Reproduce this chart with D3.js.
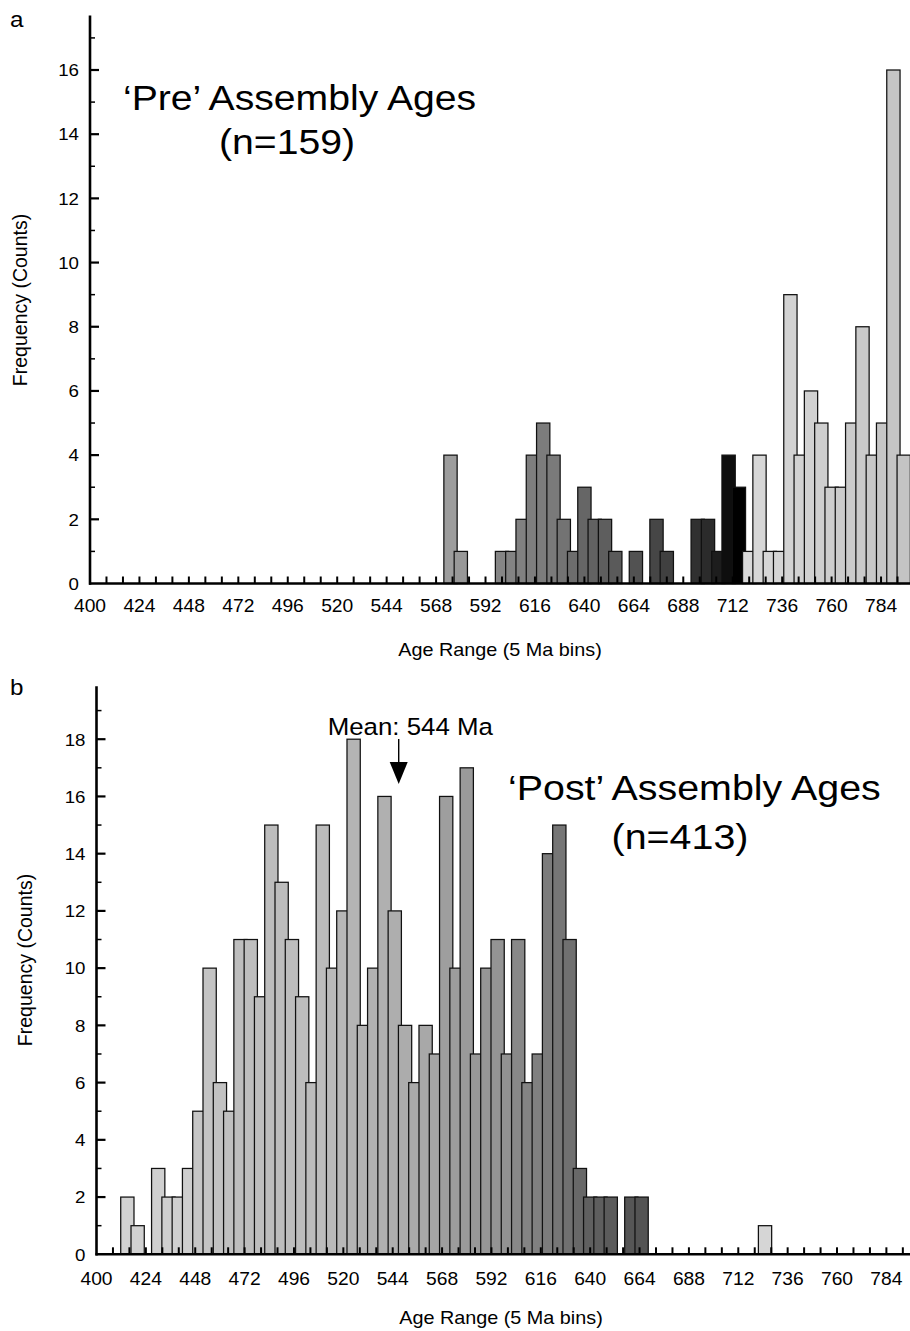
<!DOCTYPE html>
<html>
<head>
<meta charset="utf-8">
<script src="https://cdn.jsdelivr.net/npm/d3@7"></script>
<style>
  body { margin: 0; background: #fff; }
  svg { display: block; }
  text { font-family: "Liberation Sans", Arial, Helvetica, sans-serif; fill: #000; }
</style>
</head>
<body>
<script>
// ---------------- DATA ----------------
// Panel a: 'Pre' assembly ages (bin centres, Ma) and counts
const agesA = [575,580,585,590,595,600,605,610,615,620,625,630,635,640,645,650,655,660,665,670,
               675,680,685,690,695,700,705,710,715,720,725,730,735,740,745,750,755,760,765,770,
               775,780,785,790,795];
const countsA = [4,1,0,0,0,1,1,2,4,5,4,2,1,3,2,2,1,0,1,0,
                 2,1,0,0,2,2,1,4,3,1,4,1,1,9,4,6,5,3,3,5,
                 8,4,5,16,4];

// Panel b: 'Post' assembly ages
const agesB = [415,420,425,430,435,440,445,450,455,460,465,470,475,480,485,490,495,500,505,510,
               515,520,525,530,535,540,545,550,555,560,565,570,575,580,585,590,595,600,605,610,
               615,620,625,630,635,640,645,650,655,660,665,725];
const countsB = [2,1,0,3,2,2,3,5,10,6,5,11,11,9,15,13,11,9,6,15,
                 10,12,18,8,10,16,12,8,6,8,7,16,10,17,7,10,11,7,11,6,
                 7,14,15,11,3,2,2,2,0,2,2,1];

const xTickLabels = [400,424,448,472,496,520,544,568,592,616,640,664,688,712,736,760,784];
const yTicksA = [0,2,4,6,8,10,12,14,16];
const yTicksB = [0,2,4,6,8,10,12,14,16,18];
const meanAge = 544;

const titleA = ["\u2018Pre\u2019 Assembly Ages", "(n=159)"];
const titleB = ["\u2018Post\u2019 Assembly Ages", "(n=413)"];
const meanLabel = "Mean: 544 Ma";
const xTitle = "Age Range (5 Ma bins)";
const yTitle = "Frequency (Counts)";

// ---------------- STYLE ----------------
const grayStopsA = { age: [575, 600, 625, 640, 665, 680, 700, 715, 716, 795],
                     g:   [157, 133, 122, 102, 82,  64,  43,  0,   218, 196] };
const grayStopsB = { age: [415, 445, 450, 470, 510, 525, 545, 565, 570, 600, 605, 620, 630, 640, 665, 700, 730],
                     g:   [210, 206, 198, 190, 188, 180, 174, 166, 158, 146, 136, 124, 112, 96,  84,  214, 214] };

const W = 910, H = 1331;
const STRETCH = 1.1;   // the reference type is slightly wide
const binWidthDrawn = 6.45; // Ma; bars overlap their neighbours

const svg = d3.select("body").append("svg").attr("width", W).attr("height", H);

function addText(parent, x, y, str, size, anchor, rotate) {
  const tr = rotate ? `translate(${x},${y}) rotate(-90)`
                    : `translate(${x},${y}) scale(${STRETCH},1)`;
  const g = parent.append("g").attr("transform", tr);
  g.append("text").attr("font-size", size).attr("text-anchor", anchor || "start").text(str);
  return g;
}

function drawPanel(cfg) {
  const g = svg.append("g");
  const x = d3.scaleLinear().domain([400, 800]).range([cfg.x0, cfg.x0 + 400 * cfg.pxPerMa]);
  const y = d3.scaleLinear().domain([0, cfg.yRef]).range([cfg.y0, cfg.yRefPx]);
  const gray = d3.scaleLinear().domain(cfg.stops.age).range(cfg.stops.g).clamp(true);

  // bars
  const data = cfg.ages.map((a, i) => ({ age: a, n: cfg.counts[i] })).filter(d => d.n > 0);
  g.append("g").selectAll("rect").data(data).join("rect")
    .attr("x", d => x(d.age - binWidthDrawn / 2))
    .attr("width", x(400 + binWidthDrawn) - x(400))
    .attr("y", d => y(d.n))
    .attr("height", d => y(0) - y(d.n))
    .attr("fill", d => { const v = Math.round(gray(d.age)); return d3.rgb(v, v, v); })
    .attr("stroke", "#111")
    .attr("stroke-width", 1.25);

  // x axis
  const xEnd = 910;
  g.append("line").attr("x1", cfg.x0 - 1).attr("x2", xEnd).attr("y1", y(0)).attr("y2", y(0))
    .attr("stroke", "#000").attr("stroke-width", 2.6);
  const xt = d3.range(408, 801, 8).filter(v => x(v) <= xEnd);
  g.append("g").selectAll("line").data(xt).join("line")
    .attr("x1", d => x(d)).attr("x2", d => x(d))
    .attr("y1", y(0)).attr("y2", y(0) - 7)
    .attr("stroke", "#000").attr("stroke-width", 2);
  xTickLabels.forEach(v => addText(g, x(v), cfg.xLabelY, String(v), 17.5, "middle"));

  // y axis
  g.append("line").attr("x1", cfg.x0).attr("x2", cfg.x0).attr("y1", y(0) + 1.3).attr("y2", y(cfg.yTop))
    .attr("stroke", "#000").attr("stroke-width", 2.6);
  const yMinor = d3.range(1, Math.floor(cfg.yTop) + 1, 2);
  g.append("g").selectAll("line").data(yMinor).join("line")
    .attr("x1", cfg.x0).attr("x2", cfg.x0 + 5)
    .attr("y1", d => y(d)).attr("y2", d => y(d))
    .attr("stroke", "#000").attr("stroke-width", 1.5);
  g.append("g").selectAll("line").data(cfg.yTicks.filter(v => v > 0)).join("line")
    .attr("x1", cfg.x0).attr("x2", cfg.x0 + 9)
    .attr("y1", d => y(d)).attr("y2", d => y(d))
    .attr("stroke", "#000").attr("stroke-width", 2.2);
  cfg.yTicks.forEach(v => addText(g, cfg.x0 - 11, y(v) + 6.3, String(v), 17, "end"));

  // axis titles
  addText(g, cfg.xTitleX, cfg.xTitleY, xTitle, 18, "middle");
  addText(g, cfg.yTitleX, cfg.yTitleY, yTitle, 19.5, "middle", true);

  // panel letter
  addText(g, 10, cfg.letterY, cfg.letter, 22, "start");

  // titles
  addText(g, cfg.t1x, cfg.t1y, cfg.title[0], cfg.tSize, "start");
  addText(g, cfg.t2x, cfg.t2y, cfg.title[1], cfg.tSize, "middle");

  return { g, x, y };
}

drawPanel({
  letter: "a", letterY: 27,
  ages: agesA, counts: countsA, stops: grayStopsA,
  x0: 90, pxPerMa: 2.06,
  y0: 583.5, yRef: 16, yRefPx: 70, yTop: 17.7, yTicks: yTicksA,
  xLabelY: 611.5, xTitleX: 500, xTitleY: 656, yTitleX: 27, yTitleY: 300,
  title: titleA, tSize: 35.6, t1x: 123, t1y: 110, t2x: 287, t2y: 154
});

const pb = drawPanel({
  letter: "b", letterY: 695,
  ages: agesB, counts: countsB, stops: grayStopsB,
  x0: 96.5, pxPerMa: 2.057,
  y0: 1254.3, yRef: 18, yRefPx: 739.2, yTop: 19.85, yTicks: yTicksB,
  xLabelY: 1284.5, xTitleX: 501, xTitleY: 1324, yTitleX: 32, yTitleY: 960,
  title: titleB, tSize: 35.8, t1x: 508, t1y: 800, t2x: 680, t2y: 849
});

// mean annotation (arrow head sits just right of the 544 tick, as drawn)
const ax = pb.x(meanAge) + 6;
addText(pb.g, ax - 71, 735, meanLabel, 23.5, "start");
pb.g.append("line").attr("x1", ax).attr("x2", ax).attr("y1", 739).attr("y2", 764)
  .attr("stroke", "#000").attr("stroke-width", 1.4);
pb.g.append("path")
  .attr("d", d3.line()([[ax - 9, 762], [ax + 9, 762], [ax, 784]]) + "Z")
  .attr("fill", "#000");
</script>
</body>
</html>
